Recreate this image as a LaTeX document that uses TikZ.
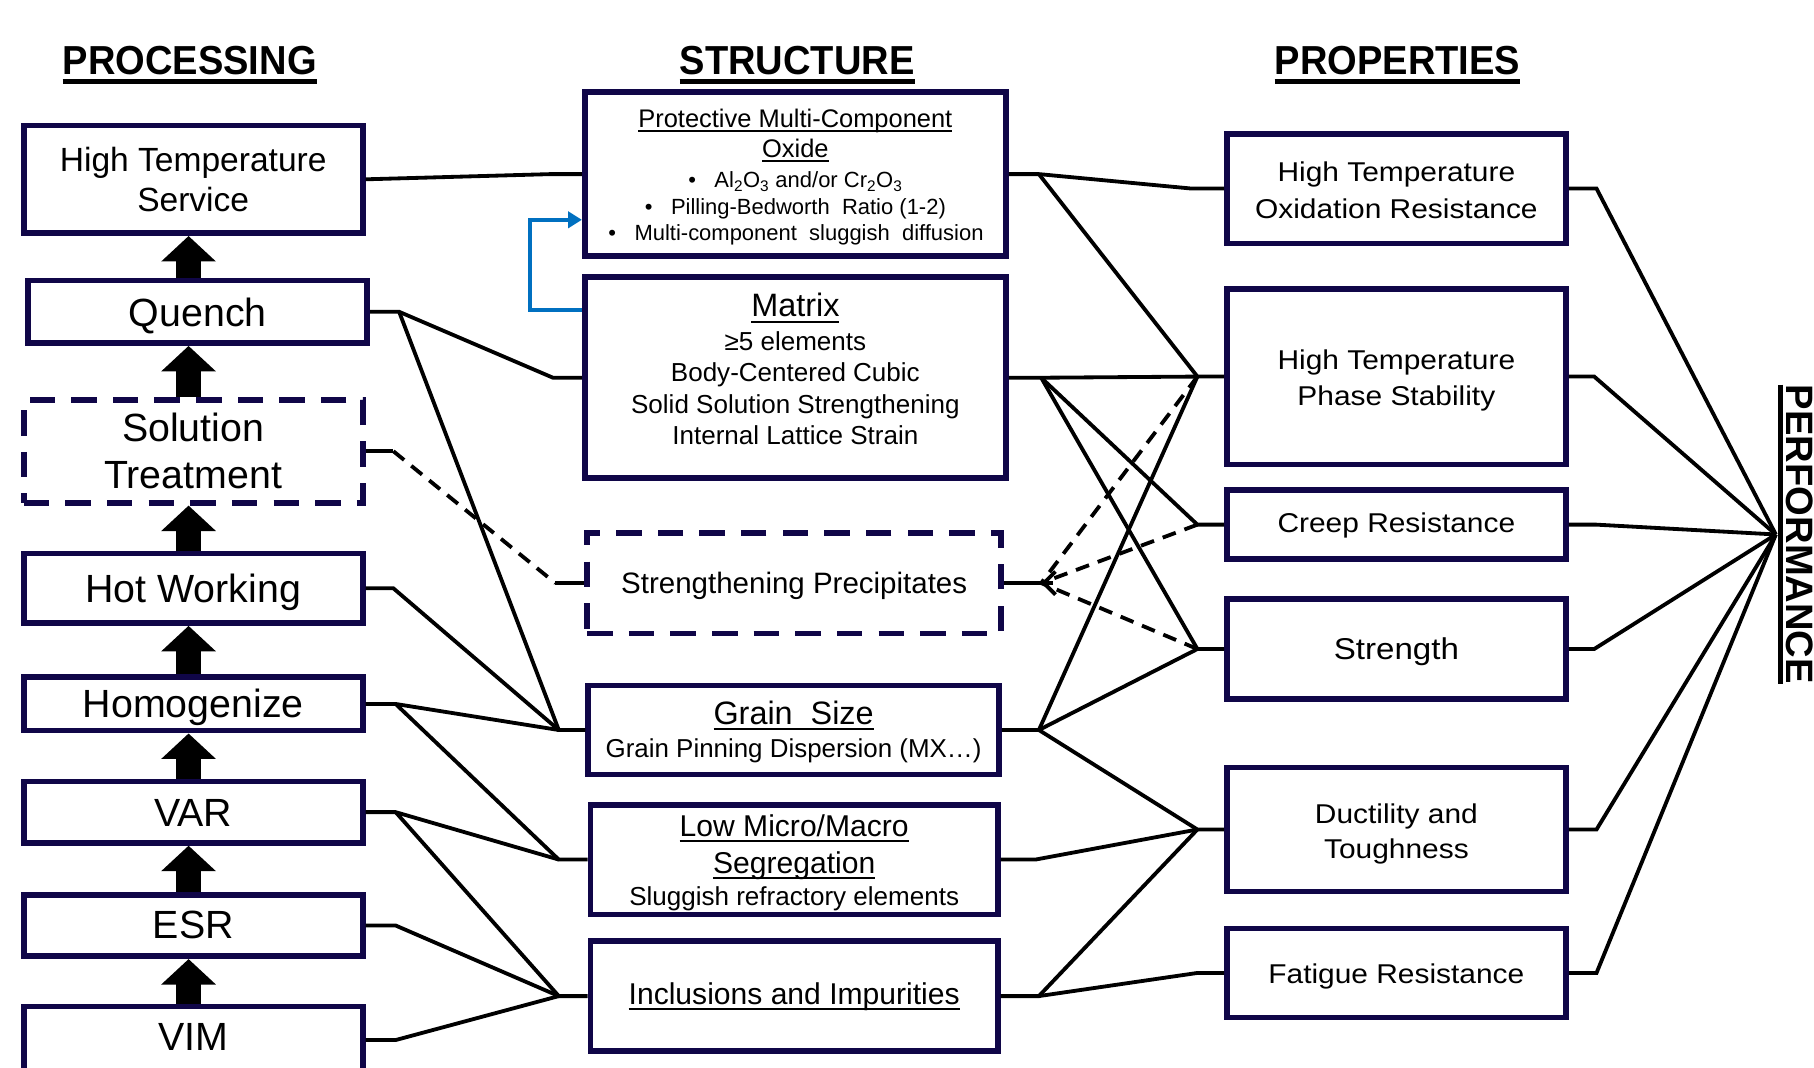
\documentclass[tikz,border=0pt]{standalone}
\usepackage{fontspec}
\setmainfont{Liberation Sans}
\newfontfamily\widef[FakeStretch=1.1]{Liberation Sans}
\newfontfamily\headf[FakeStretch=0.94]{Liberation Sans}
\usetikzlibrary{arrows.meta,calc}
\definecolor{navy}{RGB}{16,6,72}
\definecolor{linkblue}{RGB}{0,112,192}
\newcommand\fs[1]{\fontsize{#1}{#1}\selectfont}
\newcommand\myul[1]{\setbox0\hbox{#1}\leavevmode\rlap{\rule[-0.19em]{\wd0}{0.07em}}\box0}
\begin{document}
\begin{tikzpicture}[x=1pt,y=-1pt,
  box/.style={draw=navy, line width=5pt, rectangle, inner sep=0pt},
  dbox/.style={box, dash pattern=on 22pt off 14pt},
  txt/.style={inner sep=0pt, anchor=base},
  conn/.style={line width=3.3pt, black},
  dconn/.style={conn, dash pattern=on 12pt off 8pt},
  blk/.style={line width=21pt, black, -{Triangle[length=22pt,width=46pt]}},
  headtxt/.style={txt, font=\headf\bfseries\fs{35}},
  ptxt/.style={txt, font=\fs{34}},
  stxt/.style={txt, font=\fs{22.5}},
  rtxt/.style={txt, font=\widef\fs{23.5}}]
\useasboundingbox (0,0) rectangle (1568,923);
\fill[white] (0,0) rectangle (1568,923);

% ---------- headers
\node[headtxt] (hproc) at (164,64.5) {PROCESSING};
\node[headtxt] (hstru) at (689,64.5) {STRUCTURE};
\node[headtxt] (hprop) at (1208,64.5) {PROPERTIES};
\foreach \h in {hproc,hstru,hprop}
  \draw[line width=4pt] ([yshift=-6pt]\h.base west) -- ([yshift=-6pt]\h.base east);
\node[txt, font=\bfseries\fs{33}, rotate=-90] (hperf) at (1544,462) {PERFORMANCE};
\draw[line width=3.5pt] ([xshift=-5pt]hperf.base west) -- ([xshift=-5pt]hperf.base east);

% ---------- processing column
\node[box, minimum width=293pt, minimum height=93pt] (hts) at (167,155) {};
\node[txt, font=\fs{29}] (htsA) at (167,148) {High Temperature};
\node[txt, font=\fs{29}] (htsB) at (167,183) {Service};
\node[box, minimum width=293pt, minimum height=54pt] (qu) at (171,269.5) {};
\node[ptxt] (quT) at (171,282) {Quench};
\node[dbox, minimum width=293pt, minimum height=89pt] (sol) at (167,390) {};
\node[ptxt] (solA) at (167,382) {Solution};
\node[ptxt] (solB) at (167,422) {Treatment};
\node[box, minimum width=293pt, minimum height=60pt] (hw) at (167,508.5) {};
\node[ptxt] (hwT) at (167,521) {Hot Working};
\node[box, minimum width=293pt, minimum height=46pt] (ho) at (167,608.5) {};
\node[ptxt] (hoT) at (167,620) {Homogenize};
\node[box, minimum width=293pt, minimum height=53pt] (var) at (167,702) {};
\node[ptxt] (varT) at (167,714) {VAR};
\node[box, minimum width=293pt, minimum height=53pt] (esr) at (167,800) {};
\node[ptxt] (esrT) at (167,811) {ESR};
\node[box, minimum width=293pt, minimum height=58pt] (vim) at (167,899) {};
\node[ptxt] (vimT) at (167,908) {VIM};

\coordinate (ax) at (163,0);
\draw[blk] (qu.north -| ax) -- (hts.south -| ax);
\draw[blk] (sol.north -| ax) -- (qu.south -| ax);
\draw[blk] (hw.north -| ax) -- (sol.south -| ax);
\draw[blk] (ho.north -| ax) -- (hw.south -| ax);
\draw[blk] (var.north -| ax) -- (ho.south -| ax);
\draw[blk] (esr.north -| ax) -- (var.south -| ax);
\draw[blk] (vim.north -| ax) -- (esr.south -| ax);

% ---------- structure column
\node[box, minimum width=364pt, minimum height=142pt] (ox) at (687.5,150.5) {};
\node[txt, font=\fs{22}] (oxA) at (687.5,110) {\myul{Protective Multi-Component}};
\node[txt, font=\fs{22}] (oxB) at (687.5,136) {\myul{Oxide}};
\node[txt, font=\fs{19}] (oxC) at (687.5,162) {\textbullet\hspace{16pt}Al\textsubscript{2}O\textsubscript{3} and/or Cr\textsubscript{2}O\textsubscript{3}};
\node[txt, font=\fs{19}] (oxD) at (687.5,185) {\textbullet\hspace{16pt}Pilling-Bedworth\ \ Ratio (1-2)};
\node[txt, font=\fs{19}] (oxE) at (688,208) {\textbullet\hspace{16pt}Multi-component\ \ sluggish\ \ diffusion};

\node[box, minimum width=364pt, minimum height=174pt] (ma) at (687.5,326.5) {};
\node[txt, font=\fs{28}] (maA) at (687.5,274) {\myul{Matrix}};
\node[stxt] (maB) at (687.5,303) {≥5 elements};
\node[stxt] (maC) at (687.5,330) {Body-Centered Cubic};
\node[stxt] (maD) at (687.5,357) {Solid Solution Strengthening};
\node[stxt] (maE) at (687.5,384) {Internal Lattice Strain};

\node[dbox, minimum width=358pt, minimum height=87pt] (sp) at (686.5,504) {};
\node[txt, font=\fs{25.5}] (spT) at (686.5,513) {Strengthening Precipitates};

\node[box, minimum width=355pt, minimum height=77pt] (gs) at (686,631) {};
\node[txt, font=\fs{28}] (gsA) at (686,626) {\myul{Grain\ \ Size}};
\node[txt, font=\fs{22.4}] (gsB) at (686,655) {Grain Pinning Dispersion (MX…)};

\node[box, minimum width=352pt, minimum height=95pt] (lm) at (686.5,743) {};
\node[txt, font=\fs{26}] (lmA) at (686.5,723) {\myul{Low Micro/Macro}};
\node[txt, font=\fs{26}] (lmB) at (686.5,755) {\myul{Segregation}};
\node[stxt] (lmC) at (686.5,783) {Sluggish refractory elements};

\node[box, minimum width=352pt, minimum height=95pt] (inc) at (686.5,861) {};
\node[txt, font=\fs{26}] (incT) at (686.5,868) {\myul{Inclusions and Impurities}};

% blue feedback arrow
\coordinate (bA) at (458,268);
\coordinate (bB) at (458,190);
\draw[linkblue, line width=3pt, -{Triangle[length=12pt,width=14pt]}]
  (ma.west |- bA) -- (bA) -- (bB) -- (ox.west |- bB);

% ---------- properties column
\node[box, minimum width=293pt, minimum height=95pt] (pox) at (1207,163) {};
\node[rtxt] (poxA) at (1207,156.5) {High Temperature};
\node[rtxt] (poxB) at (1207,188.5) {Oxidation Resistance};
\node[box, minimum width=293pt, minimum height=152pt] (pph) at (1207,325.5) {};
\node[rtxt] (pphA) at (1207,319.5) {High Temperature};
\node[rtxt] (pphB) at (1207,350.5) {Phase Stability};
\node[box, minimum width=293pt, minimum height=60pt] (pcr) at (1207,453.5) {};
\node[rtxt] (pcrT) at (1207,460.5) {Creep Resistance};
\node[box, minimum width=293pt, minimum height=87pt] (pst) at (1207,561) {};
\node[txt, font=\widef\fs{26}] (pstT) at (1207,570) {Strength};
\node[box, minimum width=293pt, minimum height=107pt] (pdu) at (1207,717) {};
\node[rtxt] (pduA) at (1207,711.5) {Ductility and};
\node[rtxt] (pduB) at (1207,742.5) {Toughness};
\node[box, minimum width=293pt, minimum height=77pt] (pfa) at (1207,841) {};
\node[rtxt] (pfaT) at (1207,850.5) {Fatigue Resistance};

% ---------- junction coordinates
\coordinate (jQ) at (345,269.5);
\coordinate (jS) at (340,390);
\coordinate (jH) at (340,508.5);
\coordinate (jHo) at (342,608.5);
\coordinate (jV) at (342,702);
\coordinate (jE) at (342,800);
\coordinate (jVi) at (342,899);
\coordinate (kOx) at (476,150.5);
\coordinate (kM) at (478,326.5);
\coordinate (kSP) at (480,504);
\coordinate (kG) at (483,631);
\coordinate (kL) at (483,743);
\coordinate (kI) at (483,861);

\coordinate (rOx) at (898,150.5);
\coordinate (rM) at (900,326.5);
\coordinate (rSP) at (900,504);
\coordinate (rG) at (898,631);
\coordinate (rL) at (895,743);
\coordinate (rI) at (898,861);

\coordinate (pOx) at (1030,163);
\coordinate (pPh) at (1035,325.5);
\coordinate (pCr) at (1035,453.5);
\coordinate (pSt) at (1035,561);
\coordinate (pDu) at (1035,717);
\coordinate (pFa) at (1035,841);

\coordinate (qOx) at (1380,163);
\coordinate (qPh) at (1378,325.5);
\coordinate (qCr) at (1380,453.5);
\coordinate (qSt) at (1378,561);
\coordinate (qDu) at (1380,717);
\coordinate (qFa) at (1380,841);
\coordinate (perf) at (1535,462);

% ---------- processing -> structure
\draw[conn] (hts.east) -- (kOx) -- (ox.west);
\draw[conn] (qu.east) -- (jQ) -- (kM) -- (ma.west);
\draw[conn] (jQ) -- (kG) -- (gs.west);
\draw[conn] (sol.east) -- (jS);
\draw[dconn] (jS) -- (kSP);
\draw[conn] (kSP) -- (sp.west);
\draw[conn] (hw.east) -- (jH) -- (kG);
\draw[conn] (ho.east) -- (jHo) -- (kG);
\draw[conn] (jHo) -- (kL) -- (lm.west);
\draw[conn] (var.east) -- (jV) -- (kL);
\draw[conn] (jV) -- (kI) -- (inc.west);
\draw[conn] (esr.east) -- (jE) -- (kI);
\draw[conn] (vim.east) -- (jVi) -- (kI);

% ---------- structure -> properties
\draw[conn] (ox.east) -- (rOx) -- (pOx) -- (pox.west);
\draw[conn] (rOx) -- (pPh) -- (pph.west);
\draw[conn] (ma.east) -- (rM) -- (pPh);
\draw[conn] (rM) -- (pCr) -- (pcr.west);
\draw[conn] (rM) -- (pSt) -- (pst.west);
\draw[conn] (sp.east) -- (rSP);
\draw[conn, -{Straight Barb[length=10pt,width=20pt]}] ([xshift=10pt]rSP) -- (rSP);
\draw[dconn] (pPh) -- (rSP);
\draw[dconn] (pCr) -- (rSP);
\draw[dconn] (pSt) -- (rSP);
\draw[conn] (gs.east) -- (rG) -- (pPh);
\draw[conn] (rG) -- (pSt);
\draw[conn] (rG) -- (pDu) -- (pdu.west);
\draw[conn] (lm.east) -- (rL) -- (pDu);
\draw[conn] (inc.east) -- (rI) -- (pDu);
\draw[conn] (rI) -- (pFa) -- (pfa.west);

% ---------- properties -> performance
\draw[conn] (pox.east) -- (qOx) -- (perf);
\draw[conn] (pph.east) -- (qPh) -- (perf);
\draw[conn] (pcr.east) -- (qCr) -- (perf);
\draw[conn] (pst.east) -- (qSt) -- (perf);
\draw[conn] (pdu.east) -- (qDu) -- (perf);
\draw[conn] (pfa.east) -- (qFa) -- (perf);
\end{tikzpicture}
\end{document}
